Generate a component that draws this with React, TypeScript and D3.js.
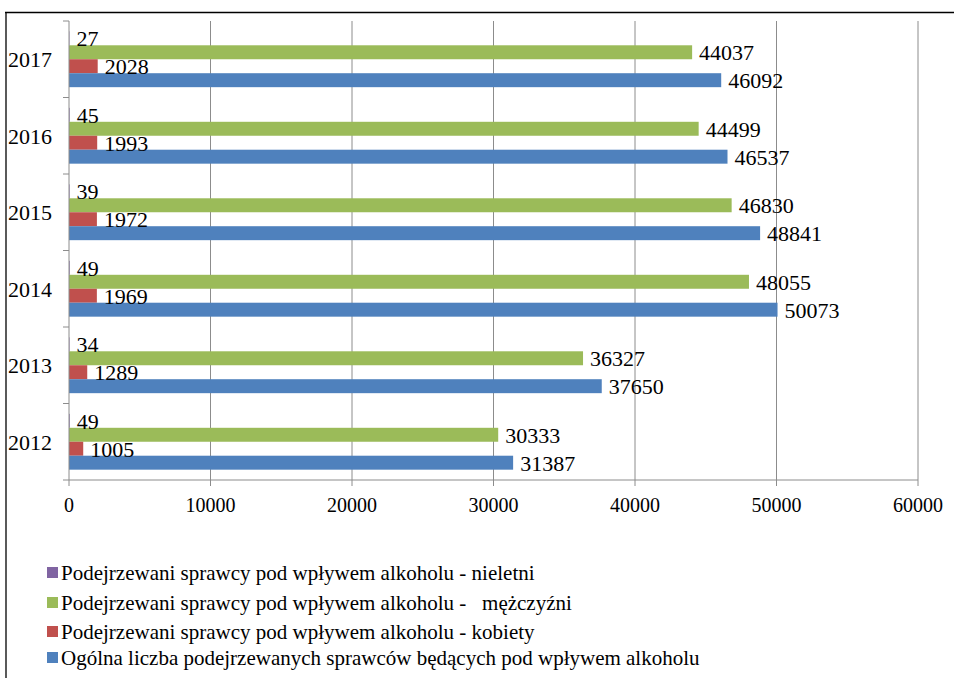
import React from "react";
import * as d3 from "d3";

const years = ["2017", "2016", "2015", "2014", "2013", "2012"];
const seriesNames = [
  "Podejrzewani sprawcy pod wpływem alkoholu - nieletni",
  "Podejrzewani sprawcy pod wpływem alkoholu -   mężczyźni",
  "Podejrzewani sprawcy pod wpływem alkoholu - kobiety",
  "Ogólna liczba podejrzewanych sprawców będących pod wpływem alkoholu",
];
const seriesColors = ["#8064A2", "#9BBB59", "#C0504D", "#4F81BD"];
const nieletni = [27, 45, 39, 49, 34, 49];
const mezczyzni = [44037, 44499, 46830, 48055, 36327, 30333];
const kobiety = [2028, 1993, 1972, 1969, 1289, 1005];
const ogolna = [46092, 46537, 48841, 50073, 37650, 31387];
const xTicks = [0, 10000, 20000, 30000, 40000, 50000, 60000];

const seriesValues = [nieletni, mezczyzni, kobiety, ogolna];

const FONT = "'Liberation Serif', 'Times New Roman', serif";

export default function App() {
  const W = 954;
  const H = 678;
  const left = 69;
  const right = 918;
  const top = 21;
  const bottom = 480;
  const x = d3.scaleLinear().domain([0, 60000]).range([left, right]);
  const y = d3.scaleBand().domain(years).range([top, bottom]).paddingInner(0.27).paddingOuter(0.135);
  const inner = d3.scaleBand().domain(d3.range(4).map(String)).range([0, y.bandwidth()]);
  const boundaries = d3.range(years.length + 1).map((i) => top + (i * (bottom - top)) / years.length);
  const ts = { fontFamily: FONT };

  return (
    <svg
      width={W}
      height={H}
      style={{ position: "absolute", left: 0, top: 0, background: "#fff" }}
    >
      <rect x={0} y={0} width={W} height={H} fill="#fff" />
      {/* frame */}
      <line x1={5} x2={W} y1={12.5} y2={12.5} stroke="#000" strokeWidth={1.5} />
      <line x1={6} x2={6} y1={12} y2={H} stroke="#000" strokeWidth={1.3} />
      {/* gridlines */}
      {xTicks.slice(1).map((t) => (
        <line key={t} x1={x(t)} x2={x(t)} y1={top} y2={bottom} stroke="#8c8c8c" strokeWidth={1} />
      ))}
      {/* bars */}
      {years.map((yr, i) => (
        <g key={yr}>
          {seriesValues.map((vals, s) => (
            <rect
              key={s}
              x={x(0)}
              y={(y(yr) as number) + (inner(String(s)) as number)}
              width={x(vals[i]) - x(0)}
              height={inner.bandwidth()}
              fill={seriesColors[s]}
            />
          ))}
          {seriesValues.map((vals, s) => (
            <text
              key={"l" + s}
              x={x(vals[i]) + 7}
              y={(y(yr) as number) + (inner(String(s)) as number) + inner.bandwidth() / 2}
              dy="0.36em"
              fontSize={22}
              fill="#000"
              style={ts}
            >
              {vals[i]}
            </text>
          ))}
          <text
            x={8}
            y={(y(yr) as number) + y.bandwidth() / 2}
            dy="0.36em"
            fontSize={22}
            fill="#000"
            style={ts}
          >
            {yr}
          </text>
        </g>
      ))}
      {/* axes */}
      <line x1={left} x2={left} y1={top} y2={bottom} stroke="#8c8c8c" strokeWidth={1} />
      {boundaries.map((b, i) => (
        <line key={i} x1={left - 6} x2={left} y1={b} y2={b} stroke="#8c8c8c" strokeWidth={1} />
      ))}
      <line x1={left} x2={right} y1={bottom} y2={bottom} stroke="#8c8c8c" strokeWidth={1} />
      {xTicks.map((t) => (
        <g key={t}>
          <line x1={x(t)} x2={x(t)} y1={bottom} y2={bottom + 6} stroke="#8c8c8c" strokeWidth={1} />
          <text x={x(t)} y={505} dy="0.36em" textAnchor="middle" fontSize={20} fill="#000" style={ts}>
            {t}
          </text>
        </g>
      ))}
      {/* legend */}
      {seriesNames.map((n, i) => {
        const ly = [572, 602, 631, 657][i];
        return (
          <g key={n}>
            <rect x={47} y={ly - 5} width={11} height={11} fill={seriesColors[i]} />
            <text x={61} y={ly} dy="0.36em" fontSize={21} fill="#000" style={{ ...ts, whiteSpace: "pre" }}>
              {n}
            </text>
          </g>
        );
      })}
    </svg>
  );
}
